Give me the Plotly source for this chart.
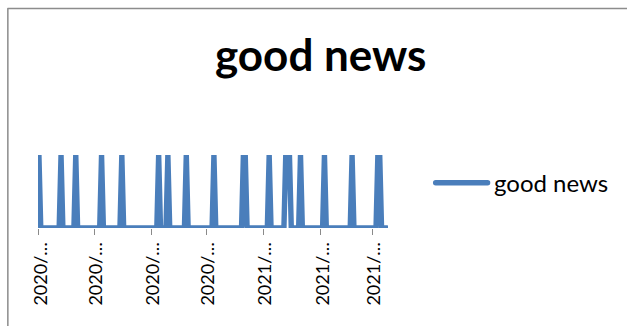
import pandas as pd
import plotly.graph_objects as go

# Daily series: 1 on days with good news, 0 otherwise
start_date = "2020-09-01"
end_date = "2021-03-09"
good_news_dates = [
    "2020-09-01", "2020-09-13", "2020-09-21", "2020-10-05", "2020-10-16",
    "2020-11-05", "2020-11-10", "2020-11-20", "2020-12-05", "2020-12-21",
    "2020-12-22", "2021-01-04", "2021-01-13", "2021-01-14", "2021-01-15",
    "2021-01-21", "2021-02-03", "2021-02-18", "2021-03-04", "2021-03-05",
]
series_name = "good news"

# Month-start ticks with their (truncated) labels
tick_dates = ["2020-09-01", "2020-10-01", "2020-11-01", "2020-12-01",
              "2021-01-01", "2021-02-01", "2021-03-01"]
tick_labels = ["2020/…", "2020/…", "2020/…", "2020/…",
               "2021/…", "2021/…", "2021/…"]

days = pd.date_range(start_date, end_date, freq="D")
hits = set(pd.to_datetime(good_news_dates))
values = [1 if d in hits else 0 for d in days]

W, H = 627, 326
FONT = "Lato"
BLUE = "#4a7ebb"
LINE_W = 5.4

# plot-area geometry in pixels
L, T = 37.7, 155.0
PW, PH = 350.55, 73.5
R = W - L - PW
B = H - T - PH


def px_x(p):
    return (p - L) / PW


def px_y(p):
    return 1 - (p - T) / PH


fig = go.Figure()
fig.add_trace(go.Scatter(
    x=days, y=values, mode="lines", name=series_name,
    line=dict(color=BLUE, width=LINE_W),
    cliponaxis=False, showlegend=False,
))

fig.update_layout(
    template="none",
    width=W, height=H,
    margin=dict(l=L, r=R, t=T, b=B, pad=0, autoexpand=False),
    paper_bgcolor="white", plot_bgcolor="white",
    font=dict(family=FONT, color="black"),
    xaxis=dict(
        type="date", automargin=False,
        range=["2020-08-31 12:00", "2021-03-09 12:00"],
        tickmode="array", tickvals=tick_dates, ticktext=tick_labels,
        tickangle=-90, ticks="outside", ticklen=6, tickwidth=1,
        ticklabelshift=2,
        tickcolor="#8a8a8a", tickfont=dict(size=18, family=FONT),
        showgrid=False, zeroline=False, showline=False,
    ),
    yaxis=dict(range=[0, 1], visible=False, automargin=False),
    shapes=[
        # chart border
        dict(type="rect", xref="paper", yref="paper",
             x0=px_x(7.5), x1=px_x(640), y0=px_y(7.5), y1=px_y(340),
             line=dict(color="#8c8c8c", width=1.5), fillcolor="rgba(0,0,0,0)"),
        # legend key
        dict(type="line", xref="paper", yref="paper",
             x0=px_x(436), x1=px_x(488), y0=px_y(183), y1=px_y(183),
             line=dict(color=BLUE, width=LINE_W)),
    ],
    annotations=[
        dict(text="<b>good news</b>", xref="paper", yref="paper",
             x=px_x(320.5), y=px_y(53), xanchor="center", yanchor="middle",
             showarrow=False, font=dict(size=44, family=FONT, color="black")),
        dict(text=series_name, xref="paper", yref="paper",
             x=px_x(492), y=px_y(183), xanchor="left", yanchor="middle",
             showarrow=False, font=dict(size=24, family=FONT, color="black")),
    ],
)

# rounded joins and caps on the series line and legend key
round_js = """
var gd = document.getElementById('{plot_id}');
function roundLines() {
  gd.querySelectorAll('.scatterlayer .js-line, .shapelayer path').forEach(function (p) {
    p.style.strokeLinejoin = 'round';
    p.style.strokeLinecap = 'round';
  });
}
roundLines();
gd.on('plotly_afterplot', roundLines);
"""

fig.write_html("out.html", post_script=round_js)
